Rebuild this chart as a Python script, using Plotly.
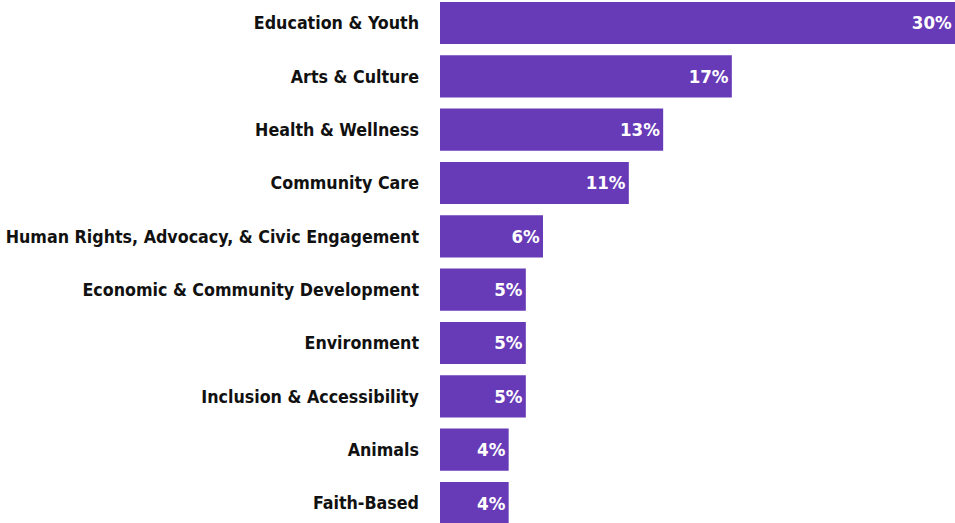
import plotly.graph_objects as go

# Share of volunteering by cause area (%)
causes = [
    "Education & Youth",
    "Arts & Culture",
    "Health & Wellness",
    "Community Care",
    "Human Rights, Advocacy, & Civic Engagement",
    "Economic & Community Development",
    "Environment",
    "Inclusion & Accessibility",
    "Animals",
    "Faith-Based",
]
shares = [30, 17, 13, 11, 6, 5, 5, 5, 4, 4]

BAR_COLOR = "#673AB7"
FONT = "DejaVu Sans Condensed, Roboto Condensed, Roboto, sans-serif"

fig = go.Figure(
    go.Bar(
        x=shares,
        y=causes,
        orientation="h",
        marker=dict(color=BAR_COLOR, line=dict(width=0)),
        texttemplate="%{x}%",
        textposition="inside",
        insidetextanchor="end",
        textangle=0,
        constraintext="none",
        textfont=dict(family=FONT, size=18.5, color="white", weight="bold"),
        cliponaxis=False,
        hoverinfo="skip",
    )
)

fig.update_layout(
    width=955,
    height=523,
    margin=dict(l=440, r=0, t=0, b=0),
    paper_bgcolor="white",
    plot_bgcolor="white",
    bargap=0.21,
    showlegend=False,
    xaxis=dict(range=[0, 30], visible=False, fixedrange=True),
    yaxis=dict(
        categoryorder="array",
        categoryarray=causes,
        range=[9.375, -0.431],
        showgrid=False,
        zeroline=False,
        showline=False,
        ticks="",
        ticklabelstandoff=20,
        tickfont=dict(family=FONT, size=17.7, color="#111111", weight="bold"),
    ),
)

fig.write_html("out.html")
